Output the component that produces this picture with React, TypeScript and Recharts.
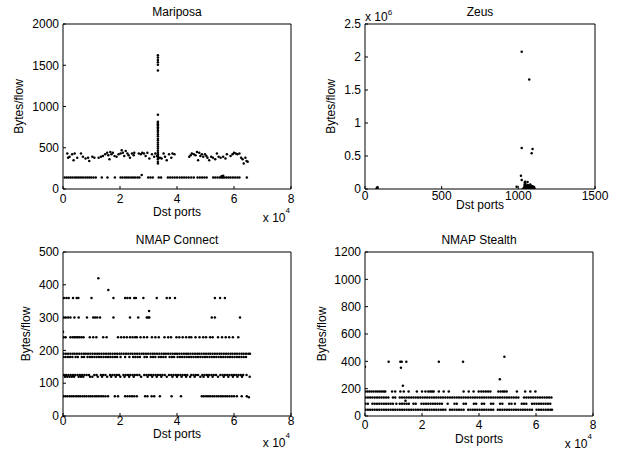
import React from "react";
import { ScatterChart, Scatter, XAxis, YAxis, Label } from "recharts";

const W = 618;
const H = 453;

// Port values are in thousands for the three wide panels.

// Mariposa
const mariposaLowX = [
  0.6, 1.3, 2.0, 2.7, 3.4, 4.2, 4.9, 5.6, 6.3, 7.0, 7.8, 8.5, 9.2, 9.9, 10.7, 11.5,
  13.6, 15.6, 18.2, 20.2, 20.9, 21.7, 22.4, 23.1, 23.9, 24.6, 25.3, 26.1, 26.8,
  29.9, 30.7, 31.5, 33.6, 34.4, 36.8, 37.6, 38.4, 39.2, 40.0, 40.9, 41.7, 42.5,
  43.3, 44.1, 45.0, 45.9, 47.2, 48.0, 48.8, 49.6, 50.4, 52.7, 53.4, 54.2, 55.0,
  55.6, 56.1, 56.7, 57.4, 58.1, 58.8, 59.6, 60.4, 61.2, 61.9, 64.5,
];
const mariposaLowY = 140;
const mariposaRaised: [number, number][] = [
  [27.6, 170], [55.6, 155], [56.2, 160],
];
const mariposaUpper: [number, number][] = [
  [1.5, 430], [1.8, 380], [2.3, 390], [3.2, 420], [3.7, 350], [4.1, 430], [5.0, 380],
  [6.3, 430], [7.0, 390], [7.9, 370], [8.8, 380], [9.2, 340], [10.3, 390], [11.0, 380],
  [12.5, 380], [13.3, 390], [14.0, 400], [14.8, 420], [15.5, 440], [15.9, 410],
  [16.3, 360], [16.6, 450], [17.0, 420], [17.5, 440], [18.1, 400], [18.8, 390],
  [19.5, 420], [20.2, 430], [20.6, 470], [21.0, 440], [21.5, 400], [22.0, 460],
  [22.6, 430], [23.0, 410], [23.5, 380], [24.2, 430], [24.8, 410], [25.0, 440],
  [26.6, 430], [27.3, 420], [27.8, 440], [28.4, 430], [29.0, 400], [29.6, 440],
  [30.3, 370], [31.2, 420], [32.0, 390], [32.4, 430], [33.0, 400], [34.0, 380],
  [34.6, 370], [35.3, 430], [35.8, 390], [36.4, 350], [37.2, 420], [38.0, 380],
  [38.4, 430], [39.1, 420], [44.3, 390], [44.8, 410], [45.2, 430], [45.9, 420],
  [46.5, 410], [47.0, 450], [47.4, 350], [47.8, 440], [48.2, 400], [48.7, 420],
  [49.2, 390], [49.8, 420], [50.3, 400], [50.7, 380], [51.3, 350], [52.0, 390],
  [52.6, 380], [53.4, 360], [54.0, 430], [54.6, 390], [55.3, 380], [56.2, 390],
  [57.0, 370], [57.5, 420], [58.8, 400], [59.5, 420], [60.0, 440], [60.6, 430],
  [61.2, 420], [61.9, 430], [62.5, 380], [63.0, 360], [63.4, 310], [64.0, 380],
  [64.4, 340], [64.8, 330],
];
const mariposaSpikeX = 33.3;
const mariposaSpikeY = [
  1620, 1595, 1565, 1535, 1505, 1435, 900, 815, 800, 785, 770, 750, 730, 710, 690,
  665, 640, 610, 590, 565, 540, 515, 490, 465, 440, 420, 400, 380, 360, 330, 310,
];

// Zeus (ports, bytes)
const zeusPoints: [number, number][] = [
  [76, 5000], [78, 20000], [80, 12000], [82, 28000], [79, 2000],
  [1022, 2080000], [1071, 1660000], [1022, 620000], [1093, 605000], [1087, 540000],
  [1017, 200000], [1022, 136000], [989, 35000],
  [1030, 5000], [1038, 15000], [1040, 40000], [1041, 70000], [1042, 100000],
  [1044, 110000], [1046, 80000], [1048, 55000], [1050, 30000], [1052, 10000],
  [1055, 45000], [1058, 25000], [1060, 105000], [1062, 60000], [1065, 15000],
  [1068, 35000], [1070, 8000], [1072, 50000], [1075, 20000], [1078, 70000],
  [1080, 30000], [1083, 10000], [1085, 45000], [1088, 25000], [1090, 5000],
  [1092, 40000], [1095, 20000], [1098, 35000], [1100, 10000], [1103, 25000],
  [1105, 5000], [1045, 3000], [1055, 2000], [1065, 3000], [1075, 2000],
  [1085, 3000], [1095, 2000],
];

// NMAP Connect rows
const connect360 = [0.3, 1.2, 2.0, 3.5, 4.8, 5.4, 10.0, 17.7, 21.8, 22.6, 23.5, 25.0, 25.6, 28.2, 32.9, 36.4, 37.5, 39.3, 53.3, 55.1, 56.8];
const connect300 = [0.3, 1.0, 1.8, 2.6, 4.0, 5.5, 8.4, 10.6, 11.3, 12.0, 13.0, 17.7, 23.5, 26.4, 29.4, 29.9, 30.3, 52.2, 53.3, 62.1];
const connect240 = [
  0.2, 0.9, 2.6, 3.4, 4.0, 4.6, 5.2, 5.8, 6.5, 7.2, 9.4, 10.6, 11.7, 14.1, 15.3, 19.3,
  20.4, 21.4, 22.4, 23.5, 24.4, 25.3, 25.9, 27.2, 28.4, 29.5, 31.2, 32.4, 33.6, 35.6,
  36.9, 37.9, 39.8, 40.8, 42.0, 43.2, 44.3, 45.0, 46.5, 47.9, 49.2, 50.2, 51.6, 52.5,
  54.4, 55.8, 57.1, 58.3, 59.6, 61.5,
];
const connect190 = [
  0.2, 1.0, 1.8, 2.6, 3.4, 4.1, 4.9, 5.7, 6.5, 7.3, 8.0, 8.8, 9.6, 10.4, 11.2, 12.0,
  12.7, 13.5, 14.3, 15.1, 15.9, 16.6, 17.4, 18.2, 19.0, 19.8, 20.5, 21.3, 22.1, 22.9,
  23.7, 24.4, 25.2, 26.0, 26.8, 27.6, 28.3, 29.1, 29.9, 30.7, 31.5, 32.2, 33.0, 33.8,
  34.6, 35.4, 36.1, 36.9, 37.7, 38.5, 39.3, 40.0, 40.8, 41.6, 42.4, 43.2, 43.9, 44.7,
  45.5, 46.3, 47.1, 47.8, 48.6, 49.4, 50.2, 51.0, 51.7, 52.5, 53.3, 54.1, 54.9, 55.6,
  56.4, 57.2, 58.0, 58.8, 59.5, 60.3, 61.1, 61.9, 62.7, 63.4, 64.2, 65.0, 65.6,
];
const connect180 = [
  0.2, 0.9, 1.7, 2.5, 3.3, 4.4, 5.2, 6.6, 7.4, 8.6, 9.4, 10.2, 11.0, 11.8, 12.6, 13.4,
  14.2, 15.0, 15.8, 16.6, 17.4, 18.2, 19.0, 20.2, 21.8, 23.3, 24.6, 25.4, 26.2, 27.0,
  28.6, 29.4, 30.8, 31.6, 32.4, 33.6, 34.4, 35.2, 36.0, 37.4, 38.2, 39.0, 40.2, 41.0,
  41.8, 42.6, 43.4, 44.2, 45.0, 45.8, 46.6, 47.4, 48.2, 49.0, 49.8, 50.6, 51.4, 52.2,
  53.0, 53.8, 54.6, 55.4, 56.2, 57.0, 57.8, 58.6, 59.4, 60.2, 61.0, 61.8, 62.6, 63.4,
  64.2,
];
const connect125 = [
  0.3, 1.1, 1.9, 2.7, 3.5, 4.3, 5.1, 5.9, 6.7, 7.5, 8.3, 9.1, 11.0, 11.8, 13.3, 14.1,
  14.9, 16.5, 17.3, 18.1, 18.9, 19.7, 21.2, 22.0, 22.8, 23.6, 24.4, 25.2, 26.0, 26.8,
  28.5, 29.3, 30.1, 30.9, 31.7, 32.5, 33.3, 34.1, 34.9, 35.7, 37.2, 38.0, 38.8, 39.6,
  40.4, 41.2, 42.0, 42.8, 43.6, 45.0, 45.8, 46.6, 47.4, 48.9, 49.7, 50.5, 51.3, 52.1,
  52.9, 53.7, 55.2, 56.0, 56.8, 57.6, 58.4, 59.2, 60.0, 60.8, 61.6, 62.4, 63.2, 64.4,
];
const connect120 = [
  0.7, 1.5, 2.3, 3.1, 3.9, 5.5, 6.3, 7.1, 9.5, 10.3, 12.2, 13.7, 15.5, 16.9, 18.5,
  20.1, 21.6, 23.2, 24.8, 27.4, 29.7, 31.3, 32.9, 34.5, 36.4, 38.4, 40.0, 41.6, 43.2,
  44.6, 46.2, 48.2, 49.3, 50.9, 52.5, 54.4, 56.4, 58.0, 59.6, 61.2, 62.8, 65.5,
];
const connect60 = [
  0.2, 0.9, 1.6, 2.4, 3.1, 3.8, 4.6, 5.3, 6.0, 6.8, 7.5, 8.2, 9.0, 9.7, 10.4, 11.2,
  11.9, 12.6, 13.4, 14.1, 14.9, 15.8, 18.2, 19.3, 21.8, 22.6, 23.4, 24.2, 25.0, 25.9,
  28.8, 29.6, 31.1, 32.0, 34.0, 38.1, 41.4, 48.7, 49.4, 50.2, 50.9, 51.6, 52.4, 53.1,
  53.9, 54.6, 55.4, 56.1, 56.9, 57.6, 58.4, 59.2, 60.0, 61.0, 62.7, 64.5,
];
const connectOther: [number, number][] = [
  [12.4, 420], [15.9, 384], [30.2, 320], [0, 257], [65.2, 57],
];

// NMAP Stealth rows
const stealth180 = [
  0.2, 0.9, 1.6, 2.3, 3.0, 3.8, 4.5, 5.2, 5.9, 6.6, 7.1, 9.5, 10.6, 12.4, 13.6, 15.3,
  18.2, 20.0, 21.2, 22.2, 22.9, 23.5, 24.1, 25.9, 27.6, 29.4, 34.6, 36.4, 38.1, 39.9,
  40.8, 41.6, 42.4, 43.2, 44.0, 46.8, 47.6, 48.4, 49.0, 49.7, 53.3, 56.2, 58.0, 59.8,
];
const stealth135 = [
  0.2, 1.0, 1.8, 2.6, 3.4, 4.2, 5.0, 5.8, 6.6, 7.4, 8.2, 9.8, 10.6, 12.2, 13.0, 13.8,
  14.6, 15.4, 16.2, 17.0, 17.8, 18.6, 19.4, 20.2, 21.0, 21.8, 22.6, 23.4, 24.2, 25.0,
  25.8, 26.6, 27.4, 28.2, 29.0, 29.8, 30.6, 31.4, 32.2, 33.0, 33.8, 34.6, 35.4, 36.2,
  37.0, 37.8, 38.6, 39.4, 40.2, 41.0, 41.8, 42.6, 43.4, 44.2, 45.0, 45.8, 46.6, 47.4,
  48.2, 49.0, 49.8, 50.6, 51.4, 52.2, 53.0, 53.8, 55.8, 56.6, 57.4, 58.2, 59.0, 59.8,
  60.6, 61.4, 62.2, 63.0, 63.8, 64.6, 65.4,
];
const stealth90 = [
  0.2, 1.0, 2.6, 3.4, 4.2, 5.0, 5.8, 6.6, 7.4, 8.2, 9.0, 9.8, 11.0, 12.2, 13.0, 13.8,
  14.6, 15.4, 17.0, 17.8, 19.8, 20.6, 21.4, 22.2, 23.0, 23.8, 24.6, 25.4, 26.2, 27.0,
  29.0, 31.4, 32.2, 34.6, 35.4, 38.2, 39.0, 41.0, 41.8, 44.2, 45.0, 47.4, 48.2, 50.6,
  51.4, 52.6, 55.0, 55.8, 56.6, 58.6, 59.4, 60.2, 61.0, 61.8, 62.6, 63.4, 64.2, 65.0,
];
const stealth45 = [
  0.2, 1.0, 1.8, 2.6, 3.4, 4.2, 5.0, 5.8, 6.6, 7.4, 8.2, 9.0, 9.8, 10.6, 11.4, 12.2,
  13.0, 13.8, 14.6, 15.4, 16.2, 17.0, 17.8, 18.6, 19.4, 20.2, 21.0, 21.8, 22.6, 23.4,
  24.2, 25.0, 25.8, 26.6, 27.4, 28.2, 29.8, 30.6, 31.4, 32.2, 33.0, 33.8, 34.6, 36.2,
  37.0, 37.8, 38.6, 39.4, 40.2, 41.0, 41.8, 42.6, 43.4, 44.2, 45.0, 46.6, 47.4, 48.2,
  49.0, 49.8, 50.6, 51.4, 52.2, 53.0, 53.8, 54.6, 55.4, 56.2, 57.0, 57.8, 58.6, 60.2,
  61.0, 61.8, 62.6, 63.4, 64.2, 65.0, 65.6,
];
const stealthOther: [number, number][] = [
  [8.3, 397], [12.4, 397], [12.9, 397], [14.5, 397], [12.6, 353], [13.3, 222],
  [25.9, 397], [34.4, 397], [48.9, 434], [47.3, 268], [14.2, 112], [0, 360],
];

const wideTicks = [0, 20000, 40000, 60000, 80000];

type Pt = { x: number; y: number };
const row = (xs: number[], y: number): Pt[] => xs.map((x) => ({ x: x * 1000, y }));
const pairs = (ps: [number, number][], k = 1000): Pt[] => ps.map(([x, y]) => ({ x: x * k, y }));

const mariposaData = [
  ...row(mariposaLowX, mariposaLowY),
  ...pairs(mariposaRaised),
  ...pairs(mariposaUpper),
  ...mariposaSpikeY.map((y) => ({ x: mariposaSpikeX * 1000, y })),
];
const zeusData = pairs(zeusPoints, 1);
const connectData = [
  ...row(connect360, 360),
  ...row(connect300, 300),
  ...row(connect240, 240),
  ...row(connect190, 190),
  ...row(connect180, 180),
  ...row(connect125, 125),
  ...row(connect120, 120),
  ...row(connect60, 60),
  ...pairs(connectOther),
];
const stealthData = [
  ...row(stealth180, 180),
  ...row(stealth135, 135),
  ...row(stealth90, 90),
  ...row(stealth45, 45),
  ...pairs(stealthOther),
];

const FONT = "'Liberation Sans', Arial, Helvetica, sans-serif";

const Dot = (p: any) => <circle cx={p.cx} cy={p.cy} r={1.25} fill="#000" />;
const NoDot = () => <g />;

interface PanelProps {
  title: string;
  box: [number, number, number, number];
  data: Pt[];
  xMax: number;
  xTicks: number[];
  xFmt: (v: number) => string;
  yMax: number;
  yTicks: number[];
  yFmt: (v: number) => string;
  yLabelX: number;
  tickGap: number;
  xLabelDy: number;
  expDy?: number;
  xExp?: string;
  yExp?: string;
}

function Panel(props: PanelProps) {
  const { title, box, data, xMax, xTicks, xFmt, yMax, yTicks, yFmt, yLabelX, tickGap, xLabelDy, expDy = 32, xExp, yExp } = props;
  const [l, t, r, b] = box;
  const line = { stroke: "#000", strokeWidth: 1 };
  const tickStyle = { fontSize: 12, fill: "#000" };
  return (
    <div style={{ position: "absolute", left: 0, top: 0 }}>
      <ScatterChart
        width={W}
        height={H}
        margin={{ top: t - 1, left: l - 40, right: W - r - 1, bottom: H - b - 30 }}
      >
        <XAxis
          type="number"
          dataKey="x"
          domain={[0, xMax]}
          ticks={xTicks}
          interval={0}
          allowDataOverflow
          tickFormatter={xFmt}
          height={30}
          tickSize={-3}
          tickMargin={tickGap}
          axisLine={line}
          tickLine={line}
          tick={tickStyle}
        >
          <Label
            content={() => (
              <g fontSize={12} fill="#000">
                <text x={(l + r) / 2} y={b + xLabelDy} textAnchor="middle">
                  Dst ports
                </text>
                {xExp && (
                  <text x={r - 1} y={b + expDy} textAnchor="end">
                    x 10
                    <tspan dy={-9} fontSize={8}>
                      {xExp}
                    </tspan>
                  </text>
                )}
              </g>
            )}
          />
        </XAxis>
        <XAxis
          xAxisId="top"
          orientation="top"
          type="number"
          dataKey="x"
          domain={[0, xMax]}
          ticks={xTicks}
          interval={0}
          allowDataOverflow
          height={1}
          tickSize={-3}
          tick={false}
          axisLine={line}
          tickLine={line}
        >
          <Label
            content={() => (
              <g fontSize={12} fill="#000">
                <text x={(l + r) / 2} y={t - 8.5} textAnchor="middle">
                  {title}
                </text>
                {yExp && (
                  <text x={l} y={t - 3} textAnchor="start">
                    x 10
                    <tspan dy={-6} fontSize={8}>
                      {yExp}
                    </tspan>
                  </text>
                )}
              </g>
            )}
          />
        </XAxis>
        <YAxis
          type="number"
          dataKey="y"
          domain={[0, yMax]}
          ticks={yTicks}
          interval={0}
          allowDataOverflow
          tickFormatter={yFmt}
          width={40}
          tickSize={-3}
          tickMargin={7}
          axisLine={line}
          tickLine={line}
          tick={tickStyle}
        >
          <Label
            content={() => (
              <text
                transform={`translate(${yLabelX},${(t + b) / 2}) rotate(-90)`}
                textAnchor="middle"
                fontSize={12}
                fill="#000"
              >
                Bytes/flow
              </text>
            )}
          />
        </YAxis>
        <YAxis
          yAxisId="right"
          orientation="right"
          type="number"
          dataKey="y"
          domain={[0, yMax]}
          ticks={yTicks}
          interval={0}
          allowDataOverflow
          width={1}
          tickSize={-3}
          tick={false}
          axisLine={line}
          tickLine={line}
        />
        <Scatter data={data} shape={Dot} isAnimationActive={false} />
        <Scatter
          data={data}
          xAxisId="top"
          yAxisId="right"
          shape={NoDot}
          isAnimationActive={false}
        />
      </ScatterChart>
    </div>
  );
}

const wideFmt = (v: number) => String(v / 10000);
const plain = (v: number) => String(v);

export default function App() {
  return (
    <div
      style={{
        position: "absolute",
        left: 0,
        top: 0,
        width: W,
        height: H,
        background: "#fff",
        fontFamily: FONT,
      }}
    >
      <Panel
        title="Mariposa"
        box={[63, 24, 291, 189]}
        data={mariposaData}
        xMax={80000}
        xTicks={wideTicks}
        xFmt={wideFmt}
        yMax={2000}
        yTicks={[0, 500, 1000, 1500, 2000]}
        yFmt={plain}
        yLabelX={22.6}
        tickGap={8}
        xLabelDy={26.5}
        expDy={33}
        xExp="4"
      />
      <Panel
        title="Zeus"
        box={[365, 24, 595, 189]}
        data={zeusData}
        xMax={1500}
        xTicks={[0, 500, 1000, 1500]}
        xFmt={plain}
        yMax={2500000}
        yTicks={[0, 500000, 1000000, 1500000, 2000000, 2500000]}
        yFmt={(v) => String(v / 1000000)}
        yLabelX={335}
        tickGap={5}
        xLabelDy={20}
        yExp="6"
      />
      <Panel
        title="NMAP Connect"
        box={[63, 252, 291, 416]}
        data={connectData}
        xMax={80000}
        xTicks={wideTicks}
        xFmt={wideFmt}
        yMax={500}
        yTicks={[0, 100, 200, 300, 400, 500]}
        yFmt={plain}
        yLabelX={30.3}
        tickGap={3.5}
        xLabelDy={21.5}
        expDy={31}
        xExp="4"
      />
      <Panel
        title="NMAP Stealth"
        box={[365, 252, 593, 416]}
        data={stealthData}
        xMax={80000}
        xTicks={wideTicks}
        xFmt={wideFmt}
        yMax={1200}
        yTicks={[0, 200, 400, 600, 800, 1000, 1200]}
        yFmt={plain}
        yLabelX={326}
        tickGap={7.5}
        xLabelDy={27}
        expDy={32}
        xExp="4"
      />
    </div>
  );
}
